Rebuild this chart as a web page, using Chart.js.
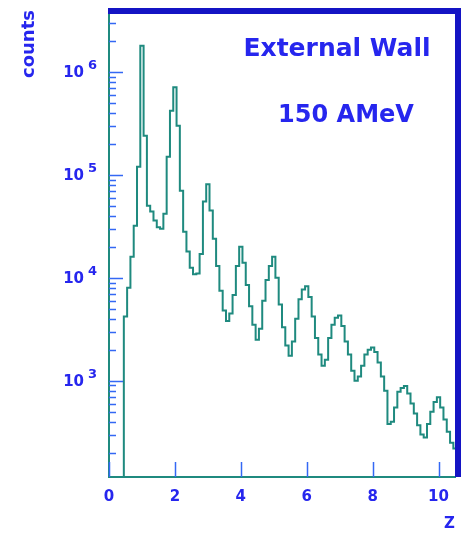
<!DOCTYPE html>
<html>
<head>
<meta charset="utf-8">
<script src="https://cdn.jsdelivr.net/npm/chart.js@4.4.0/dist/chart.umd.min.js"></script>
<style>
  html, body { margin: 0; padding: 0; background: #fff; }
  #graph { width: 470px; height: 537px; }
</style>
</head>
<body>
<div id="graph"><canvas id="zChart" width="470" height="537"></canvas></div>
<script>
// Charge (Z) spectrum of the external wall, 150 AMeV beam
const binLow = 0.4;     // centre of the first bin
const binWidth = 0.1;
const counts = [
  1, 4200, 8000, 16000, 32000, 120000, 1800000, 240000, 50000, 44000,
  36000, 31000, 30000, 42000, 150000, 420000, 710000, 300000, 70000, 28000,
  18000, 12500, 10800, 11000, 17000, 55000, 81000, 45000, 24000, 13000,
  7500, 4800, 3800, 4500, 6800, 13000, 20000, 14000, 8500, 5300,
  3500, 2500, 3200, 6000, 9500, 13000, 16000, 10000, 5500, 3300,
  2200, 1750, 2400, 4000, 6200, 7700, 8300, 6500, 4200, 2600,
  1800, 1400, 1600, 2600, 3500, 4100, 4300, 3400, 2400, 1800,
  1250, 1000, 1100, 1400, 1800, 2000, 2100, 1900, 1500, 1100,
  800, 380, 400, 550, 780, 850, 890, 750, 600, 480,
  370, 300, 280, 380, 500, 620, 690, 550, 420, 320,
  250, 220
];
const zRange = [0, 10.5];
const countRange = [116, 4.0e6];
const xTickStep = 2;
const yDecades = [2, 3, 4, 5, 6];
const yMultipliers = [1, 2, 3, 4, 5, 6, 7, 8, 9];
const labelLines = ['External Wall', '150 AMeV'];

const textBlue = '#2626ee';
const tickBlue = '#3468f4';
const frameBlue = '#1414c4';
const teal = '#1f8a7f';
const fontFamily = '"DejaVu Sans", sans-serif';

const zBins = counts.map((_, i) => +(binLow + i * binWidth).toFixed(2));
const points = counts.map((c, i) => ({ x: zBins[i], y: c }));

// ticks pointing inwards, heavy top/right frame, 10^n labels, run label
const framePlugin = {
  id: 'framePlugin',
  afterDatasetsDraw(chart) {
    const { ctx, chartArea: a, scales: { x, y } } = chart;
    ctx.save();

    ctx.strokeStyle = tickBlue;
    ctx.lineWidth = 1.5;
    ctx.beginPath();
    y.ticks.forEach(t => {
      const py = Math.round(y.getPixelForValue(t.value)) + 0.5;
      ctx.moveTo(a.left, py);
      ctx.lineTo(a.left + (t.major ? 14 : 7), py);
    });
    x.ticks.forEach(t => {
      const px = Math.round(x.getPixelForValue(t.value)) + 0.5;
      ctx.moveTo(px, a.bottom);
      ctx.lineTo(px, a.bottom - 15);
    });
    ctx.stroke();

    ctx.fillStyle = frameBlue;
    ctx.fillRect(a.left - 1, a.top - 2, a.right - a.left + 7, 6);
    ctx.fillRect(a.right, a.top - 2, 6, a.bottom - a.top + 2);

    // decade labels with exponent
    ctx.fillStyle = textBlue;
    ctx.textBaseline = 'middle';
    y.ticks.filter(t => t.major).forEach(t => {
      const py = y.getPixelForValue(t.value);
      const exp = Math.round(Math.log10(t.value));
      ctx.font = 'bold 15px ' + fontFamily;
      ctx.textAlign = 'right';
      ctx.fillText('10', a.left - 25, py + 1);
      ctx.font = 'bold 13px ' + fontFamily;
      ctx.textAlign = 'left';
      ctx.fillText(String(exp), a.left - 21, py - 6);
    });

    ctx.textAlign = 'center';
    ctx.textBaseline = 'alphabetic';
    ctx.font = 'bold 25px ' + fontFamily;
    ctx.fillText(labelLines[0], a.left + 228, 56);
    ctx.font = 'bold 24px ' + fontFamily;
    ctx.fillText(labelLines[1], a.left + 237, 122);

    ctx.restore();
  }
};

new Chart(document.getElementById('zChart'), {
  type: 'line',
  data: {
    datasets: [{
      data: points,
      stepped: 'middle',
      borderColor: teal,
      borderWidth: 2,
      pointRadius: 0,
      fill: false
    }]
  },
  options: {
    responsive: false,
    animation: false,
    layout: { padding: { top: 10, right: 15, left: 0, bottom: 0 } },
    plugins: { legend: { display: false }, tooltip: { enabled: false } },
    scales: {
      x: {
        type: 'linear',
        min: zRange[0],
        max: zRange[1],
        grid: { display: false, drawTicks: false },
        border: { display: true, color: teal, width: 2 },
        ticks: {
          stepSize: xTickStep,
          includeBounds: false,
          padding: 11,
          color: textBlue,
          font: { family: fontFamily, size: 15, weight: 'bold' }
        },
        title: {
          display: true,
          text: 'Z',
          align: 'end',
          color: textBlue,
          font: { family: fontFamily, size: 15, weight: 'bold' },
          padding: { top: 0, bottom: 4 }
        },
        afterFit(scale) { scale.height = 60; }
      },
      y: {
        type: 'logarithmic',
        min: countRange[0],
        max: countRange[1],
        grid: { display: false, drawTicks: false },
        border: { display: true, color: teal, width: 2 },
        ticks: { display: false },
        title: {
          display: true,
          text: 'counts',
          align: 'end',
          color: textBlue,
          font: { family: fontFamily, size: 18, weight: 'bold' },
          padding: { top: 19, bottom: 0 }
        },
        afterBuildTicks(scale) {
          scale.ticks = yDecades
            .flatMap(d => yMultipliers.map(m => ({ value: m * Math.pow(10, d), major: m === 1 })))
            .filter(t => t.value >= scale.min && t.value <= scale.max);
        },
        afterFit(scale) { scale.width = 109; }
      }
    }
  },
  plugins: [framePlugin]
});
</script>
</body>
</html>
